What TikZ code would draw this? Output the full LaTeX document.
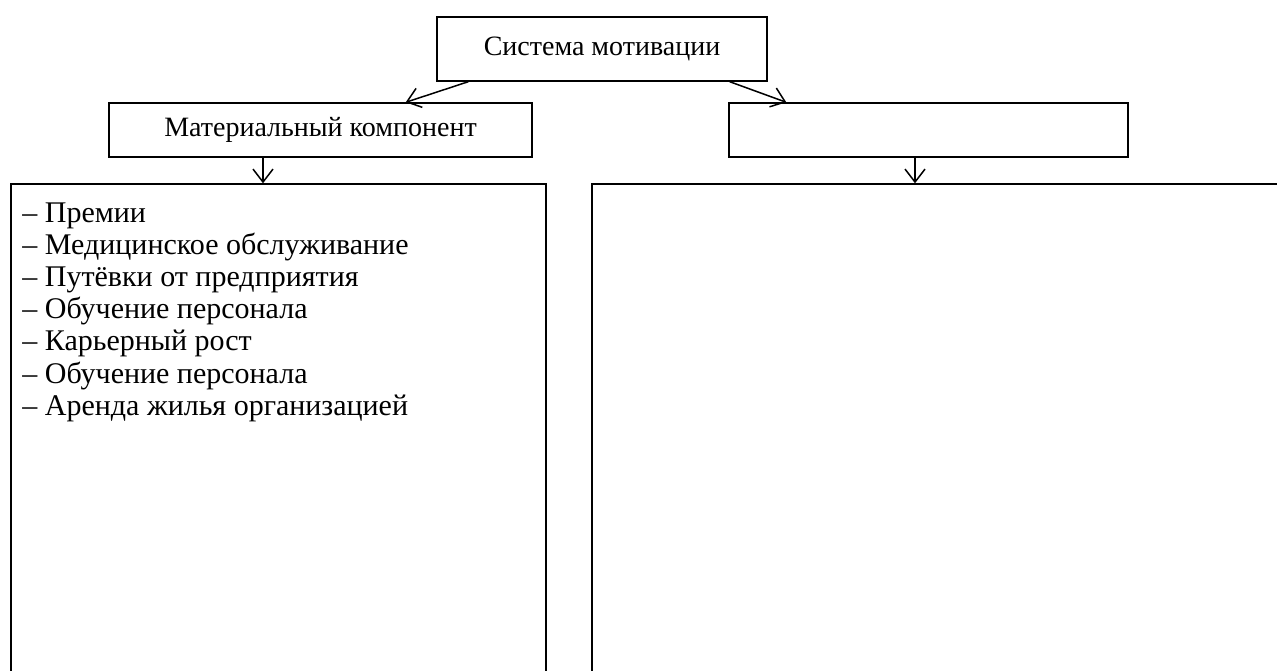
\documentclass[tikz,border=0pt]{standalone}
\usepackage{fontspec}
\setmainfont{Liberation Serif}
\usepackage{tikz}
\usetikzlibrary{arrows.meta,positioning,calc}
\tikzset{
  sysbox/.style={rectangle,draw,line width=.7pt,inner sep=0pt,font=\fontsize{14pt}{16.1pt}\selectfont},
  listtext/.style={inner sep=0pt,align=left,font=\fontsize{15pt}{16.1pt}\selectfont},
  sysarrow/.style={-{Straight Barb[length=6.5pt,width=10pt]},line width=.75pt}
}

\begin{document}
\begin{tikzpicture}[x=0.5pt,y=-0.5pt]
  \path[use as bounding box,clip] (0,0) rectangle (1277,670);
  \node[sysbox,minimum width=165pt,minimum height=32pt] (sys) at (602,49) {Система мотивации};
  \node[sysbox,minimum width=211.5pt,minimum height=27pt] (mat) at (320.5,130) {Материальный компонент};
  \node[sysbox,minimum width=199.5pt,minimum height=27pt] (nonmat) at (928.5,130) {};
  \node[sysbox,minimum width=267.5pt,minimum height=258pt] (matlist) at (278.5,442) {};
  \node[sysbox,minimum width=349pt,minimum height=258pt] (nonmatlist) at (941,442) {};
  \node[listtext,anchor=north west] (matitems) at (22,202) {%
    -- Премии\\
    -- Медицинское обслуживание\\
    -- Путёвки от предприятия\\
    -- Обучение персонала\\
    -- Карьерный рост\\
    -- Обучение персонала\\
    -- Аренда жилья организацией};
  \draw[sysarrow] ([xshift=16pt]sys.south west)--([xshift=-63.5pt]mat.north east);
  \draw[sysarrow] ([xshift=-19pt]sys.south east)--([xshift=29pt]nonmat.north west);
  \draw[sysarrow] ([xshift=-28.75pt]mat.south)--([xshift=-7.75pt]matlist.north);
  \draw[sysarrow] ([xshift=-6.75pt]nonmat.south)--([xshift=-13pt]nonmatlist.north);
\end{tikzpicture}
\end{document}
